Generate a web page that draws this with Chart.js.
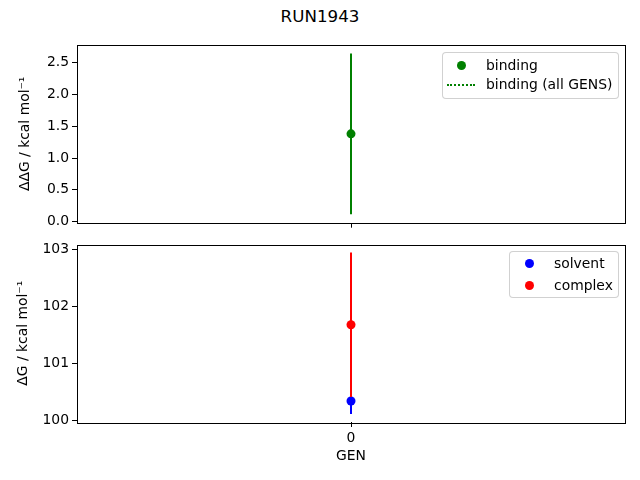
<!DOCTYPE html>
<html>
<head>
<meta charset="utf-8">
<script src="https://cdn.jsdelivr.net/npm/chart.js@4.4.0/dist/chart.umd.min.js"></script>
<style>
  html, body { margin:0; padding:0; background:#fff; }
  #wrap { position:relative; width:640px; height:480px; font-family:"DejaVu Sans", sans-serif; color:#000; }
  canvas { position:absolute; left:0; }
  .title { position:absolute; left:0; width:640px; top:6px; text-align:center; font-size:16.7px; line-height:20px; }
  .legend { position:absolute; border:1px solid rgba(204,204,204,0.9); border-radius:4px; background:rgba(255,255,255,0.8); }
  .item { position:absolute; font-size:13.9px; line-height:16px; white-space:nowrap; }
  .dot { position:absolute; width:9px; height:9px; border-radius:50%; }
  .dline { position:absolute; height:0; border-top:2px dotted #008000; }
</style>
</head>
<body>
<div id="wrap">
  <div class="title">RUN1943</div>
  <canvas id="c1" width="640" height="240" style="top:0"></canvas>
  <canvas id="c2" width="640" height="240" style="top:240px"></canvas>
  <div class="legend" style="left:442px; top:52px; width:175px; height:45px;"></div>
  <div class="dot" style="left:457px; top:61px; background:#008000;"></div>
  <div class="item" style="left:486px; top:57px;">binding</div>
  <div class="dline" style="left:447px; top:84px; width:28px;"></div>
  <div class="item" style="left:486px; top:76px;">binding (all GENS)</div>
  <div class="legend" style="left:509px; top:251px; width:108px; height:45px;"></div>
  <div class="dot" style="left:525px; top:259px; background:#0000ff;"></div>
  <div class="item" style="left:554px; top:255px;">solvent</div>
  <div class="dot" style="left:525px; top:281px; background:#ff0000;"></div>
  <div class="item" style="left:554px; top:277px;">complex</div>
</div>
<script>
const gens = [0];
const bindingVal = [1.38];
const bindingErr = [1.265];
const solventVal = [100.34];
const solventErr = [0.23];
const complexVal = [101.68];
const complexErr = [1.27];
const topTicks = [0.0, 0.5, 1.0, 1.5, 2.0, 2.5];
const bottomTicks = [100, 101, 102, 103];
const xTickLabels = ['0'];

const FONT = "'DejaVu Sans', sans-serif";
Chart.defaults.font.family = FONT;
Chart.defaults.font.size = 13.9;
Chart.defaults.color = '#000';

const boxPlugin = {
  id: 'box',
  afterDatasetsDraw(chart) {
    const a = chart.chartArea, ctx = chart.ctx;
    ctx.save();
    ctx.strokeStyle = '#000';
    ctx.lineWidth = 1;
    ctx.strokeRect(Math.round(a.left) + 0.5, Math.round(a.top) + 0.5, Math.round(a.right - a.left), Math.round(a.bottom - a.top));
    ctx.restore();
  }
};

function pts(vals) { return gens.map((g, i) => ({ x: g, y: vals[i] })); }
function errSeg(vals, errs, i) { return [{ x: gens[i], y: vals[i] - errs[i] }, { x: gens[i], y: vals[i] + errs[i] }]; }

function xScale(showLabels, afterH) {
  return {
    type: 'linear', min: -0.055, max: 0.055,
    afterBuildTicks: s => { s.ticks = gens.map(g => ({ value: g })); },
    afterFit: s => { s.height = afterH; s.paddingLeft = 0; s.paddingRight = 0; },
    grid: { drawOnChartArea: false, drawTicks: true, tickLength: 5, color: '#000', lineWidth: 1 },
    border: { display: false },
    ticks: { padding: 3, maxRotation: 0, callback: (v, i) => showLabels ? xTickLabels[i] : '' },
    title: showLabels ? { display: true, text: 'GEN', font: { size: 13.9 }, padding: { top: 0, bottom: 15 } } : { display: false }
  };
}
function yScale(min, max, ticks, title, titlePad, decimals) {
  return {
    type: 'linear', min: min, max: max,
    afterBuildTicks: s => { s.ticks = ticks.map(v => ({ value: v })); },
    afterFit: s => { s.width = 77; s.paddingTop = 0; s.paddingBottom = 0; },
    grid: { drawOnChartArea: false, drawTicks: true, tickLength: 5, color: '#000', lineWidth: 1 },
    border: { display: false },
    ticks: { padding: 3, callback: v => v.toFixed(decimals) },
    title: { display: true, text: title, font: { size: 13.9 }, padding: { top: titlePad, bottom: 0 } }
  };
}

const common = {
  responsive: false, animation: false, devicePixelRatio: 1,
  plugins: { legend: { display: false }, tooltip: { enabled: false } }
};

new Chart(document.getElementById('c1'), {
  type: 'scatter',
  data: {
    datasets: [
      { label: 'binding', data: pts(bindingVal), backgroundColor: '#008000', borderColor: '#008000', pointRadius: 4.5, borderWidth: 0, order: 0 },
      { label: 'binding err', type: 'line', data: errSeg(bindingVal, bindingErr, 0), borderColor: '#008000', borderWidth: 2, pointRadius: 0, order: 1 },
      { label: 'binding (all GENS)', type: 'line', data: pts(bindingVal), borderColor: '#008000', borderDash: [2, 3], borderWidth: 1.5, pointRadius: 0, order: 2 }
    ]
  },
  options: Object.assign({}, common, {
    layout: { padding: { left: 0, right: 15, top: 45, bottom: 0 } },
    scales: { x: xScale(false, 17.3), y: yScale(-0.017, 2.777, topTicks, 'ΔΔG / kcal mol⁻¹', 17, 1) }
  }),
  plugins: [boxPlugin]
});

new Chart(document.getElementById('c2'), {
  type: 'scatter',
  data: {
    datasets: [
      { label: 'complex', data: pts(complexVal), backgroundColor: '#ff0000', borderColor: '#ff0000', pointRadius: 4.5, borderWidth: 0, order: 0 },
      { label: 'complex err', type: 'line', data: errSeg(complexVal, complexErr, 0), borderColor: '#ff0000', borderWidth: 2, pointRadius: 0, order: 1 },
      { label: 'solvent', data: pts(solventVal), backgroundColor: '#0000ff', borderColor: '#0000ff', pointRadius: 4.5, borderWidth: 0, order: 2 },
      { label: 'solvent err', type: 'line', data: errSeg(solventVal, solventErr, 0), borderColor: '#0000ff', borderWidth: 2, pointRadius: 0, order: 3 }
    ]
  },
  options: Object.assign({}, common, {
    layout: { padding: { left: 0, right: 15, top: 4, bottom: 0 } },
    scales: { x: xScale(true, 58), y: yScale(99.97, 103.09, bottomTicks, 'ΔG / kcal mol⁻¹', 15, 0) }
  }),
  plugins: [boxPlugin]
});
</script>
</body>
</html>
